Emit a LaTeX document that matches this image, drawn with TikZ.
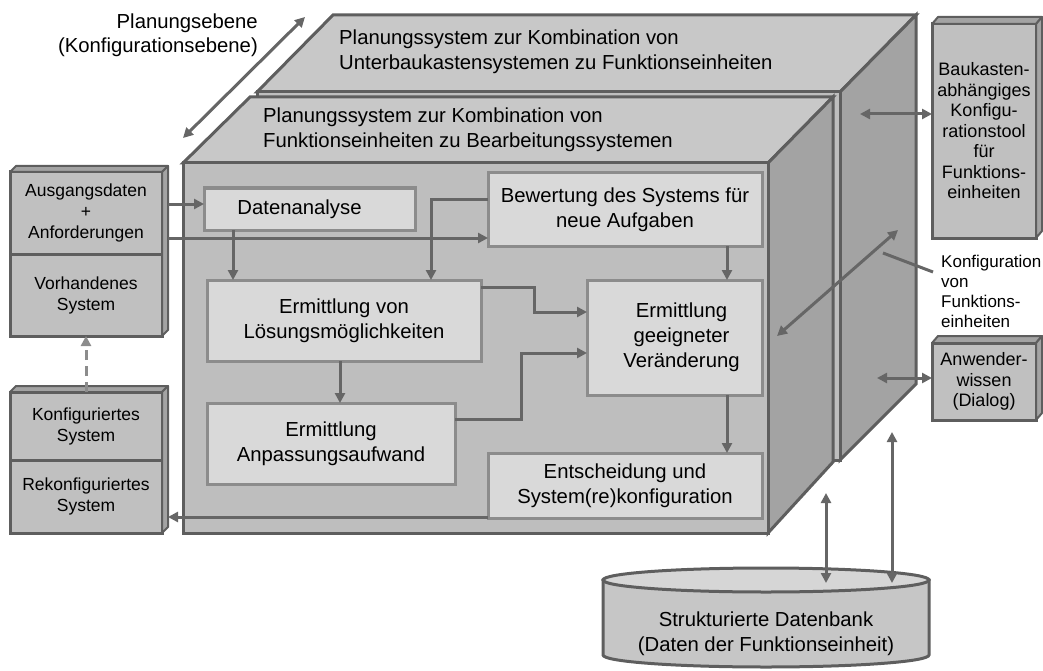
\documentclass[tikz,border=0pt]{standalone}
\usepackage{fontspec}
\setmainfont{Liberation Sans}
\usetikzlibrary{arrows.meta,calc}
\definecolor{edgec}{HTML}{5E5E5E}
\definecolor{arrc}{HTML}{666666}
\definecolor{topc}{HTML}{C8C8C8}
\definecolor{frontc}{HTML}{BEBEBE}
\definecolor{sidec}{HTML}{A3A3A3}
\definecolor{nodec}{HTML}{D9D9D9}
\definecolor{nodeedge}{HTML}{8C8C8C}
\definecolor{lboxc}{HTML}{C0C0C0}
\definecolor{cylc}{HTML}{C6C6C6}
\definecolor{cyltop}{HTML}{D6D6D6}
\newcommand\bigf{\fontsize{20.3}{25}\selectfont}
\newcommand\smallf{\fontsize{17.5}{21}\selectfont}
\newcommand\rightf{\fontsize{18}{20.5}\selectfont}
\newcommand\labf{\fontsize{17}{20}\selectfont}
\begin{document}
\begin{tikzpicture}[x=1pt,y=-1pt,
  face/.style={draw=edgec, line width=3pt, line join=miter},
  ibox/.style={draw=nodeedge, fill=nodec, line width=3pt, align=center, inner sep=0pt, outer sep=0pt, font=\bigf},
  lbox/.style={draw=edgec, fill=lboxc, line width=3pt, align=center, inner sep=0pt, outer sep=0pt, font=\smallf},
  rbox/.style={draw=edgec, fill=lboxc, line width=3pt, align=center, inner sep=0pt, outer sep=0pt, font=\rightf},
  lface/.style={draw=edgec, fill=sidec, line width=2pt, line join=round},
  arr/.style={draw=arrc, line width=3pt, -{Triangle[length=10pt,width=10pt]}},
  darr/.style={draw=arrc, line width=3pt, {Triangle[length=10pt,width=10pt]}-{Triangle[length=10pt,width=10pt]}},
  dasharr/.style={draw=arrc!75, line width=3pt, dash pattern=on 10pt off 6pt, -{Triangle[length=10pt,width=10pt]}},
  ttl/.style={font=\bigf, inner sep=0pt, anchor=base west}
]
\useasboundingbox (0,0) rectangle (1043,671);

% back box
\filldraw[face, fill=topc] (257,92) -- (333,15) -- (916,15) -- (840,92) -- cycle;
\filldraw[face, fill=sidec] (840,92) -- (916,15) -- (916,384) -- (840,460) -- cycle;
\filldraw[face, fill=frontc] (257,92) rectangle (840,460);
% front box
\filldraw[face, fill=topc] (183,163) -- (250,97) -- (833,97) -- (768,163) -- cycle;
\filldraw[face, fill=sidec] (768,163) -- (833,97) -- (833,462) -- (768,533) -- cycle;
\filldraw[face, fill=frontc] (183,163) rectangle (768,533);

% titles
\node[ttl] (t1a) at (339,45) {Planungssystem zur Kombination von};
\node[ttl] (t1b) at (339,70) {Unterbaukastensystemen zu Funktionseinheiten};
\node[ttl] (t2a) at (263,123) {Planungssystem zur Kombination von};
\node[ttl] (t2b) at (263,148) {Funktionseinheiten zu Bearbeitungssystemen};
\node[font=\bigf, inner sep=0pt, anchor=base east] (pe1) at (258,29) {Planungsebene};
\node[font=\bigf, inner sep=0pt, anchor=base east] (pe2) at (258,53) {(Konfigurationsebene)};

% inner nodes
\node[ibox, minimum width=211, minimum height=42] (datan) at (309.5,209) {Datenanalyse\hspace*{20pt}};
\node[ibox, minimum width=274, minimum height=73] (bew) at (625,209.5) {Bewertung des Systems für\\neue Aufgaben};
\node[ibox, minimum width=274, minimum height=81] (loes) at (344,320.5) {Ermittlung von\\Lösungsmöglichkeiten};
\node[ibox, minimum width=175, minimum height=115] (ver) at (674.5,337.5) {\hspace*{14pt}Ermittlung\\\hspace*{14pt}geeigneter\\\hspace*{14pt}Veränderung};
\node[ibox, minimum width=248, minimum height=81] (anp) at (331,443.5) {Ermittlung\\Anpassungsaufwand};
\node[ibox, minimum width=274, minimum height=65] (ent) at (625,485.5) {Entscheidung und\\System(re)konfiguration};

% left boxes
\node[lbox, minimum width=152, minimum height=82] (ausg) at (86,213) {Ausgangsdaten\\+\\Anforderungen};
\node[lbox, minimum width=152, minimum height=82] (vorh) at (86,295) {Vorhandenes\\System};
\filldraw[lface] (ausg.north west) -- ++(6,-6) -- ($(ausg.north east)+(6,-6)$) -- (ausg.north east) -- cycle;
\filldraw[lface] (ausg.north east) -- ++(6,-6) -- ($(vorh.south east)+(6,-6)$) -- (vorh.south east) -- cycle;
\node[lbox, minimum width=152, minimum height=68] (konf) at (86,426) {Konfiguriertes\\System};
\node[lbox, minimum width=152, minimum height=73] (rekonf) at (86,496.5) {Rekonfiguriertes\\System};
\filldraw[lface] (konf.north west) -- ++(6,-6) -- ($(konf.north east)+(6,-6)$) -- (konf.north east) -- cycle;
\filldraw[lface] (konf.north east) -- ++(6,-6) -- ($(rekonf.south east)+(6,-6)$) -- (rekonf.south east) -- cycle;

% right boxes
\node[rbox, minimum width=104, minimum height=214] (bauk) at (984,131) {Baukasten-\\abhängiges\\Konfigu-\\rationstool\\für\\Funktions-\\einheiten};
\filldraw[lface] (bauk.north west) -- ++(6,-7) -- ($(bauk.north east)+(6,-7)$) -- (bauk.north east) -- cycle;
\filldraw[lface] (bauk.north east) -- ++(6,-7) -- ($(bauk.south east)+(6,-7)$) -- (bauk.south east) -- cycle;
\node[rbox, minimum width=104, minimum height=77] (anw) at (984,381.5) {Anwender-\\wissen\\(Dialog)};
\filldraw[lface] (anw.north west) -- ++(6,-7) -- ($(anw.north east)+(6,-7)$) -- (anw.north east) -- cycle;
\filldraw[lface] (anw.north east) -- ++(6,-7) -- ($(anw.south east)+(6,-7)$) -- (anw.south east) -- cycle;
\node[font=\labf, align=left, inner sep=0pt, anchor=north west] (konfl) at (941,255) {Konfiguration\\von\\Funktions-\\einheiten};

% cylinder
\filldraw[draw=edgec, line width=3pt, fill=cylc] (603,580) -- (603,655) arc[start angle=180, end angle=0, x radius=163, y radius=12] -- (929,580) -- cycle;
\filldraw[draw=edgec, line width=3pt, fill=cyltop] (766,580) ellipse[x radius=163, y radius=12];
\node[font=\bigf, align=center, inner sep=0pt] (db) at (766,634) {Strukturierte Datenbank\\(Daten der Funktionseinheit)};

% coordinates
\coordinate (a1) at (168,204);
\coordinate (a2) at (168,238);
\coordinate (xa) at (233,0);
\coordinate (yb) at (0,199);
\coordinate (xb) at (431,0);
\coordinate (xc) at (727,0);
\coordinate (y287) at (0,287);
\coordinate (x534) at (534,0);
\coordinate (y312) at (0,312);
\coordinate (xd) at (340,0);
\coordinate (y419) at (0,419);
\coordinate (x521) at (521,0);
\coordinate (y353) at (0,353);
\coordinate (rk) at (168,517);
\coordinate (bs) at (860,114);
\coordinate (as) at (877,378);
\coordinate (d1) at (777,336);
\coordinate (d2) at (898,230);
\coordinate (p1) at (883,253);
\coordinate (p2) at (933,272);
\coordinate (v1a) at (826,493);
\coordinate (v1b) at (826,583);
\coordinate (v2a) at (892,432);
\coordinate (v2b) at (892,583);
\coordinate (pa) at (183,138);
\coordinate (pb) at (305,17);

% connectors
\draw[arr] (a1) -- (datan.west |- a1);
\draw[arr] (a2) -- (bew.west |- a2);
\draw[arr] (datan.south -| xa) -- (loes.north -| xa);
\draw[arr] (bew.west |- yb) -| (loes.north -| xb);
\draw[arr] (bew.south -| xc) -- (ver.north -| xc);
\draw[arr] (loes.east |- y287) -| (x534 |- y312) -- (ver.west |- y312);
\draw[arr] (loes.south -| xd) -- (anp.north -| xd);
\draw[arr] (anp.east |- y419) -| (x521 |- y353) -- (ver.west |- y353);
\draw[arr] (ver.south -| xc) -- (ent.north -| xc);
\draw[arr] (ent.west |- rk) -- (rk);
\draw[dasharr] (konf.north) -- (vorh.south);
\draw[darr] (bs) -- (bauk.west |- bs);
\draw[darr] (as) -- (anw.west |- as);
\draw[darr] (d1) -- (d2);
\draw[draw=arrc, line width=3pt] (p1) -- (p2);
\draw[darr] (v1a) -- (v1b);
\draw[darr] (v2a) -- (v2b);
\draw[darr] (pa) -- (pb);
\end{tikzpicture}
\end{document}
